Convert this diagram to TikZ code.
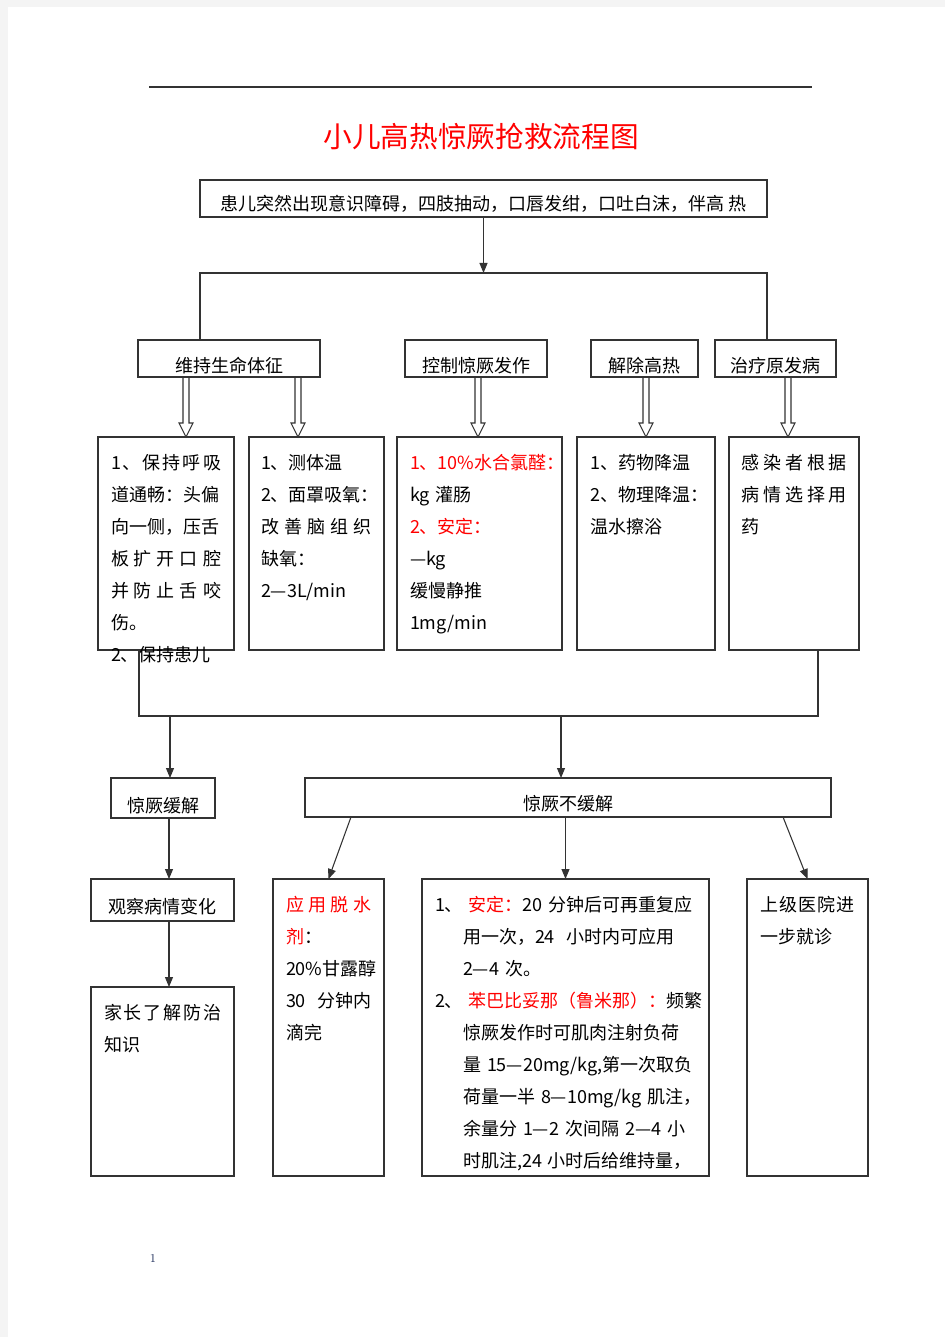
\documentclass[tikz,border=0pt]{standalone}
\usepackage{fontspec}
\usepackage{tikz}
\usetikzlibrary{calc,arrows.meta}
\newfontfamily\cjk{Noto Sans CJK SC}
\definecolor{pagegray}{gray}{0.955}
\definecolor{numblue}{RGB}{30,45,90}

% letters spread over the whole line
\newcommand{\spread}[1]{\leavevmode\hbox to\hsize{\spreadaux#1\relax}}
\def\spreadaux#1#2\relax{#1\ifx\relax#2\relax\else\hfil\spreadaux#2\relax\fi}
% one full line, glue set by hand
\newcommand{\jline}[1]{\leavevmode\hbox to\hsize{#1}}
% indented line that never breaks
\newcommand{\iline}[1]{\hspace*{21pt}\mbox{#1}}

% hollow arrow: x (px), upper node, lower node
\newcommand{\Hollow}[3]{
	\coordinate (ha) at (#2.south -| #1,0);
	\coordinate (hb) at (#3.north -| #1,0);
	\draw[hollow] ($(ha)+(-3,0)$) -- ($(hb)+(-3,-14)$) -- ($(hb)+(-7,-14)$) -- (hb)
		-- ($(hb)+(7,-14)$) -- ($(hb)+(3,-14)$) -- ($(ha)+(3,0)$);
}

\tikzset{
	every node/.style={inner sep=0pt, outer sep=0pt},
	box/.style={draw=black!80, line width=0.9pt, anchor=north west,
		font=\cjk\fontsize{13.5pt}{24pt}\selectfont},
	% one line box: width, height, baseline from top (px)
	tag/.code n args={3}{%
		\pgfmathsetmacro\tagw{#1*0.75}%
		\pgfmathsetmacro\tagh{#3*0.75}%
		\pgfmathsetmacro\tagd{(#2-#3)*0.75}%
		\edef\tagopts{box, minimum width=\tagw pt, text height=\tagh pt, text depth=\tagd pt}%
		\expandafter\pgfkeysalso\expandafter{\tagopts}},
	% text box: width, height, text width (px)
	panel/.code n args={3}{%
		\pgfmathsetmacro\panelw{#1*0.75}%
		\pgfmathsetmacro\paneld{#2*0.75-24}%
		\pgfmathsetmacro\paneltw{#3*0.75}%
		\edef\panelopts{box, align=left, minimum width=\panelw pt, text width=\paneltw pt, text height=24pt, text depth=\paneld pt}%
		\expandafter\pgfkeysalso\expandafter{\panelopts}},
	line/.style={draw=black!80, line width=0.8pt},
	arr/.style={line, -{Triangle[length=7.5pt,width=6pt]}},
	hollow/.style={draw=black!80, line width=0.8pt, line join=miter},
}

\begin{document}
\begin{tikzpicture}[x=0.75pt, y=-0.75pt]
	%page
	\fill[pagegray] (0,0) rectangle (945,1337);
	\fill[white] (8,7) rectangle (945,1337);
	\useasboundingbox (0,0) rectangle (945,1337);
	\draw[line] (149,87) -- (812,87);
	\node[font=\cjk\fontsize{21.5pt}{26pt}\selectfont, text=red] (title) at (481,137) {小儿高热惊厥抢救流程图};

	%first rows
	\node[tag={567}{37}{31}] (top) at (200,180) {患儿突然出现意识障碍，四肢抽动，口唇发绀，口吐白沫，伴高 热};
	\node[tag={182}{37}{32}] (keep) at (138,340) {维持生命体征};
	\node[tag={142}{37}{32}] (ctrl) at (405,340) {控制惊厥发作};
	\node[tag={107}{37}{32}] (cool) at (591,340) {解除高热};
	\node[tag={121}{37}{32}] (cause) at (715,340) {治疗原发病};

	%measures
	\node[panel={136}{213}{110}] (airway) at (98,437) {
		\spread{1、保持呼吸}\\
		道通畅：头偏\\
		向一侧，压舌\\
		\spread{板扩开口腔}\\
		\spread{并防止舌咬}\\
		伤。\\
		2、保持患儿};
	\node[panel={135}{213}{111}] (oxygen) at (249,437) {
		1、测体温\\
		2、面罩吸氧：\\
		\spread{改善脑组织}\\
		缺氧：\\
		2—3L/min};
	\node[panel={165}{213}{139}] (sedate) at (397,437) {
		\textcolor{red}{1、10\%水合氯醛：}\\
		kg~灌肠\\
		\textcolor{red}{2、安定：}\\
		—kg\\
		缓慢静推\\
		1mg/min};
	\node[panel={138}{213}{112}] (fever) at (577,437) {
		1、药物降温\\
		2、物理降温：\\
		温水擦浴};
	\node[panel={130}{213}{106}] (infect) at (729,437) {
		\spread{感染者根据}\\
		\spread{病情选择用}\\
		药};

	%outcome
	\node[tag={104}{40}{34}] (relief) at (111,778) {惊厥缓解};
	\node[tag={526}{39}{32}] (norelief) at (305,778) {惊厥不缓解};
	\node[tag={143}{42}{34}] (watch) at (91,879) {观察病情变化};
	\node[panel={111}{297}{85}] (dehyd) at (273,879) {
		\textcolor{red}{\spread{应用脱水}}\\
		\textcolor{red}{剂}：\\
		20\%甘露醇\\
		\jline{30\hfil 分钟内}\\
		滴完};
	\node[panel={287}{297}{261}] (drugs) at (422,879) {
		\mbox{1、~\textcolor{red}{安定：}20~分钟后可再重复应}\\
		\iline{用一次，24~~小时内可应用}\\
		\iline{2—4~次。}\\
		\mbox{2、~\textcolor{red}{苯巴比妥那（鲁米那）：}频繁}\\
		\iline{惊厥发作时可肌肉注射负荷}\\
		\iline{量~15—20mg/kg,第一次取负}\\
		\iline{荷量一半~8—10mg/kg~肌注，}\\
		\iline{余量分~1—2~次间隔~2—4~小}\\
		\iline{时肌注,24~小时后给维持量，}};
	\node[panel={121}{297}{95}] (refer) at (747,879) {
		\spread{上级医院进}\\
		一步就诊};
	\node[panel={143}{189}{117}] (parents) at (91,987) {
		\spread{家长了解防治}\\
		知识};

	%split
	\coordinate (split) at (top.south |- 0,273);
	\draw[arr] (top.south) -- (split);
	\draw[line] (keep.north -| 200,0) |- (split) -| (cause.north -| 767,0);
	\Hollow{186}{keep}{airway}
	\Hollow{298}{keep}{oxygen}
	\Hollow{478}{ctrl}{sedate}
	\Hollow{646}{cool}{fever}
	\Hollow{788}{cause}{infect}

	%merge
	\coordinate (merge) at (561,716);
	\draw[line] (airway.south -| 139,0) |- (merge) -| (infect.south -| 818,0);
	\draw[arr] (merge -| 170,0) -- (relief.north -| 170,0);
	\draw[arr] (merge) -- (norelief.north -| merge);

	%branches
	\draw[arr] (relief.south -| 169,0) -- (watch.north -| 169,0);
	\draw[arr] (watch.south -| 169,0) -- (parents.north -| 169,0);
	\draw[arr] (norelief.south -| 351,0) -- (dehyd.north);
	\draw[arr] (norelief.south -| drugs.north) -- (drugs.north);
	\draw[arr] (norelief.south -| 783,0) -- (refer.north);

	\node[font=\small, text=numblue] (pageno) at (153,1258) {1};
\end{tikzpicture}
\end{document}
